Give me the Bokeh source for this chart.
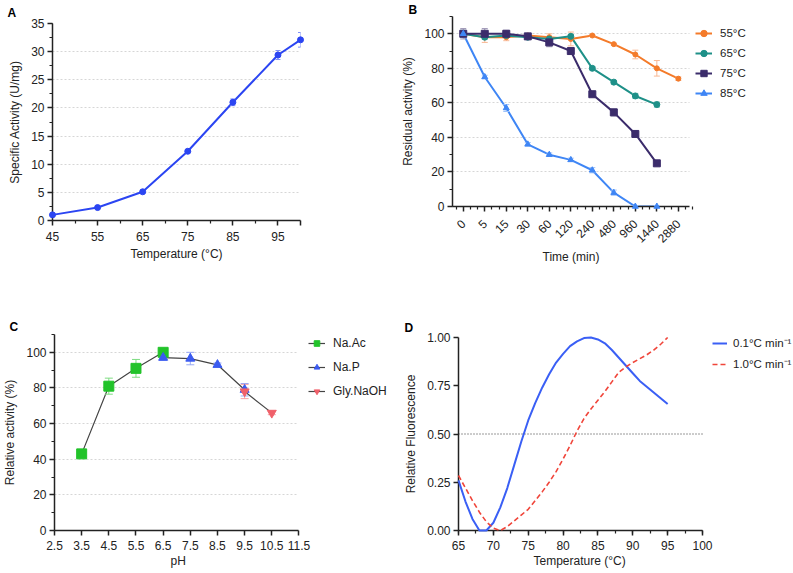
import math
from bokeh.plotting import figure
from bokeh.layouts import row, column
from bokeh.models import (ColumnDataSource, Whisker, TeeHead, FixedTicker, SingleIntervalTicker,
                          Legend, LegendItem, Range1d, NumeralTickFormatter, Title)
from bokeh.embed import file_html
from bokeh.resources import INLINE

FONT = "Liberation Sans"
INK = "#222222"

# ---------------- Panel A: specific activity vs temperature ----------------
temp_a = [45, 55, 65, 75, 85, 95, 100]
act_a = [1.0, 2.3, 5.1, 12.3, 21.0, 29.4, 32.1]
err_a = [0.3, 0.3, 0.3, 0.3, 0.6, 0.8, 1.3]

# ---------------- Panel B: residual activity vs time ----------------
time_cats = ["0", "5", "15", "30", "60", "120", "240", "480", "960", "1440", "2880"]
res_55 = [100, 98, 98, 99, 98, 97, 99, 94, 88, 80, 74]
err_55 = [2, 3, 2, 1, 2, 4, 0.5, 0.5, 2.5, 4.5, 1]
res_65 = [100, 98, 99, 98, 97, 98.5, 80, 72, 64, 59]
err_65 = [2, 1, 1, 1, 1, 1, 1, 1, 1.5, 1.5]
res_75 = [100, 100, 100, 98.5, 95, 90, 65, 54.5, 42, 25]
err_75 = [3, 3, 2, 1, 2.5, 1, 1.5, 2, 1, 1]
res_85 = [100, 75, 57, 36, 30, 27, 21, 8, 0, 0]
err_85 = [2, 1, 2, 1, 1, 1, 1.5, 1.5, 0.5, 0.5]

# ---------------- Panel C: relative activity vs pH ----------------
ph_ac = [3.5, 4.5, 5.5, 6.5]
act_ac = [43, 81, 91, 100]
err_ac = [2, 4.5, 5, 2]
ph_p = [6.5, 7.5, 8.5, 9.5]
act_p = [97, 96.5, 93, 79]
err_p = [1.5, 3.5, 1, 3.5]
ph_gly = [9.5, 10.5]
act_gly = [78, 66]
err_gly = [4, 1]

# ---------------- Panel D: relative fluorescence vs temperature ----------------
temp_d = [65, 66, 67, 68, 69, 70, 71, 72, 73, 74, 75, 76, 77, 78, 79, 80,
          81, 82, 83, 84, 85, 86, 87, 88, 89, 90, 91, 92, 93, 94, 95]
fluo_slow = [0.26, 0.15, 0.06, 0.0, 0.0, 0.04, 0.12, 0.22, 0.34, 0.46, 0.57, 0.66, 0.74, 0.81, 0.87, 0.915,
             0.955, 0.98, 0.997, 1.0, 0.99, 0.97, 0.935, 0.895, 0.855, 0.815, 0.775, 0.745, 0.715, 0.685, 0.655]
fluo_fast = [0.285, 0.22, 0.155, 0.095, 0.045, 0.012, 0.0, 0.02, 0.05, 0.08, 0.11, 0.155, 0.2, 0.25, 0.305, 0.37,
             0.44, 0.515, 0.58, 0.63, 0.675, 0.72, 0.77, 0.82, 0.848, 0.87, 0.89, 0.91, 0.935, 0.965, 1.0]
half_level = 0.5

# axis extents (data units)
A_X, A_Y = (45, 100), (0, 35)
B_X, B_Y = (-0.5, len(time_cats) - 0.5), (0, 110)
C_X, C_Y = (2.5, 11.5), (0, 110)
D_X, D_Y = (65, 100), (0, 1.0)


def make_fig(w, h, xr, yr, bl, br, bt, bb, letter, loff, lstand):
    p = figure(width=w, height=h, x_range=Range1d(*xr), y_range=Range1d(*yr), output_backend="svg",
               toolbar_location=None, tools="", title=letter, frame_align=False,
               min_border_left=bl, min_border_right=br, min_border_top=bt, min_border_bottom=bb)
    p.title.align = "left"
    p.title.offset = loff
    p.title.standoff = lstand
    p.title.text_font = FONT
    p.title.text_font_size = "12px"
    p.title.text_font_style = "bold"
    p.title.text_color = "black"
    p.outline_line_color = None
    p.background_fill_color = "white"
    p.border_fill_color = "white"
    for ax in p.axis:
        ax.axis_line_width = 1.5
        ax.axis_line_color = INK
        ax.major_tick_line_width = 1.5
        ax.major_tick_line_color = INK
        ax.minor_tick_line_width = 1.2
        ax.minor_tick_line_color = INK
        ax.major_tick_out = 5
        ax.major_tick_in = 0
        ax.minor_tick_out = 3
        ax.minor_tick_in = 0
        ax.major_label_text_font = FONT
        ax.major_label_text_font_size = "12px"
        ax.major_label_text_color = INK
        ax.axis_label_text_font = FONT
        ax.axis_label_text_font_size = "12px"
        ax.axis_label_text_font_style = "normal"
        ax.axis_label_text_color = INK
        ax.axis_label_standoff = 6
        ax.major_label_standoff = 3
    p.xaxis.major_label_standoff = 5
    p.xgrid.grid_line_color = None
    p.ygrid.grid_line_color = "#d6d6d6"
    p.ygrid.grid_line_dash = "2 2"
    p.ygrid.grid_line_width = 1
    return p


def below_label(p, text, offset, standoff):
    p.add_layout(Title(text=text, align="left", offset=offset, standoff=standoff,
                       vertical_align="top", text_font=FONT, text_font_size="12px",
                       text_font_style="normal", text_color=INK), "below")


def errbars(p, xs, ys, es, color, size=6):
    src = ColumnDataSource(dict(x=xs, upper=[y + e for y, e in zip(ys, es)],
                                lower=[y - e for y, e in zip(ys, es)]))
    p.add_layout(Whisker(base="x", upper="upper", lower="lower", source=src, dimension="height",
                         line_color=color, line_width=1, level="annotation",
                         upper_head=TeeHead(size=size, line_color=color, line_width=1),
                         lower_head=TeeHead(size=size, line_color=color, line_width=1)))


def style_legend(lg, size, gh, lh, sp, gw, so):
    lg.label_text_font = FONT
    lg.label_text_font_size = size
    lg.label_text_color = INK
    lg.glyph_height = gh
    lg.label_height = lh
    lg.spacing = sp
    lg.glyph_width = gw
    lg.label_standoff = so
    lg.padding = 0
    lg.margin = 0
    lg.border_line_color = None
    lg.background_fill_alpha = 0


# ---------------- A ----------------
pA = make_fig(398, 290, A_X, A_Y, 52, 98, 23, 70, "A", -45, 7)
pA.xaxis.ticker = FixedTicker(ticks=[45, 55, 65, 75, 85, 95, 100], minor_ticks=[50, 60, 70, 80, 90])
pA.xaxis.major_label_overrides = {100: ""}
pA.xaxis.major_label_standoff = 6
pA.xaxis.axis_label_standoff = 3
pA.yaxis.ticker = SingleIntervalTicker(interval=5, num_minor_ticks=2)
pA.xaxis.axis_label = "Temperature (°C)"
pA.yaxis.axis_label = "Specific Activity (U/mg)"
colA = "#2B45F2"
errbars(pA, temp_a, act_a, err_a, "#7F90F7", size=5)
pA.line(temp_a, act_a, line_color=colA, line_width=2)
pA.scatter(temp_a, act_a, marker="circle", size=6, fill_color=colA, line_color=colA, level="overlay")

# ---------------- B ----------------
# frame is widened to the right (axis bounded) so the legend sits inside it
idx = list(range(len(time_cats)))
B_XEXT = (B_X[0], B_X[0] + 343 * (B_X[1] - B_X[0]) / 238)
pB = make_fig(395, 290, B_XEXT, B_Y, 52, 0, 16, 84, "B", -44, 0)
pB.xaxis.bounds = B_X
pB.ygrid.cross_bounds = B_X
pB.xaxis.ticker = FixedTicker(ticks=idx,
                              minor_ticks=[i + k / 3 for i in range(-1, len(time_cats)) for k in (1, 2)])
pB.xaxis.major_label_overrides = {i: c for i, c in enumerate(time_cats)}
pB.xaxis.major_label_orientation = math.pi / 4
pB.xaxis.major_label_standoff = 10
pB.yaxis.ticker = SingleIntervalTicker(interval=20, num_minor_ticks=2)
pB.yaxis.axis_label = "Residual activity (%)"
below_label(pB, "Time (min)", 90, 0)

seriesB = [
    ("55°C", res_55, err_55, "#F47B2A", "#F8B894", "circle", 5),
    ("65°C", res_65, err_65, "#1E9088", "#8CC8C3", "circle", 6),
    ("75°C", res_75, err_75, "#3B2C6B", "#9D95B5", "square", 7),
    ("85°C", res_85, err_85, "#3F86F5", "#9FC3FA", "triangle", 6),
]
itemsB = []
for name, ys, es, col, light, mk, sz in seriesB:
    xs = idx[:len(ys)]
    errbars(pB, xs, ys, es, light, size=6)
    lr = pB.line(xs, ys, line_color=col, line_width=2)
    sr = pB.scatter(xs, ys, marker=mk, size=sz, fill_color=col, line_color=col, level="overlay")
    itemsB.append(LegendItem(label=name, renderers=[lr, sr]))
lgB = Legend(items=itemsB, location=(243, 105))
style_legend(lgB, "11.5px", 16, 16, 4, 17, 8)
pB.add_layout(lgB)

# ---------------- C ----------------
C_XEXT = (C_X[0], C_X[0] + 349 * (C_X[1] - C_X[0]) / 248)
pC = make_fig(398, 283, C_XEXT, C_Y, 49, 0, 44, 43, "C", -45, 2)
pC.xaxis.bounds = C_X
pC.ygrid.cross_bounds = C_X
pC.xaxis.ticker = FixedTicker(ticks=[2.5, 3.5, 4.5, 5.5, 6.5, 7.5, 8.5, 9.5, 10.5, 11.5])
pC.yaxis.ticker = SingleIntervalTicker(interval=20, num_minor_ticks=2)
pC.yaxis.axis_label = "Relative activity (%)"
below_label(pC, "pH", 116, 3)
seriesC = [
    ("Na.Ac", ph_ac, act_ac, err_ac, "#22C32A", "#7EDC82", "square", 10),
    ("Na.P", ph_p, act_p, err_p, "#3B5BF0", "#97A9F6", "triangle", 9),
    ("Gly.NaOH", ph_gly, act_gly, err_gly, "#F0606A", "#F5A0A5", "inverted_triangle", 9),
]
itemsC = []
for name, xs, ys, es, col, light, mk, sz in seriesC:
    errbars(pC, xs, ys, es, light, size=8)
    lr = pC.line(xs, ys, line_color="#444444", line_width=1.2)
    sr = pC.scatter(xs, ys, marker=mk, size=sz, fill_color=col, line_color=col, level="overlay")
    itemsC.append(LegendItem(label=name, renderers=[lr, sr]))
lgC = Legend(items=itemsC, location=(254, 132))
style_legend(lgC, "12px", 14, 14, 10, 17, 8)
pC.add_layout(lgC)

# ---------------- D ----------------
D_XEXT = (D_X[0], D_X[0] + 335 * (D_X[1] - D_X[0]) / 244)
pD = make_fig(395, 283, D_XEXT, D_Y, 60, 0, 47, 43, "D", -54, 5)
pD.xaxis.bounds = D_X
pD.xaxis.ticker = SingleIntervalTicker(interval=5, num_minor_ticks=2)
pD.yaxis.ticker = FixedTicker(ticks=[0, 0.25, 0.5, 0.75, 1.0])
pD.yaxis.formatter = NumeralTickFormatter(format="0.00")
pD.ygrid.grid_line_color = None
pD.yaxis.axis_label = "Relative Fluorescence"
below_label(pD, "Temperature (°C)", 75, 3)
pD.segment(x0=[D_X[0]], y0=[half_level], x1=[D_X[1]], y1=[half_level],
           line_color="#333333", line_width=1, line_dash="1 2")
r_slow = pD.line(temp_d, fluo_slow, line_color="#3A5FF5", line_width=2, level="annotation")
r_fast = pD.line(temp_d, fluo_fast, line_color="#F0453A", line_width=1.6, line_dash="5 3",
                 level="annotation")
lgD = Legend(items=[LegendItem(label="0.1°C min⁻¹", renderers=[r_slow]),
                    LegendItem(label="1.0°C min⁻¹", renderers=[r_fast])], location=(254, 159))
style_legend(lgD, "11.5px", 14, 14, 6, 15, 6)
pD.add_layout(lgD)

layout = column(row(pA, pB), row(pC, pD))
open("out.html", "w").write(file_html(layout, INLINE))
